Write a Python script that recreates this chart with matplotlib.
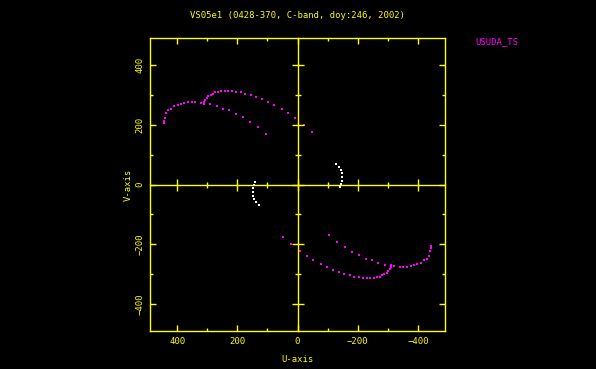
import matplotlib
matplotlib.use("Agg")
import matplotlib.pyplot as plt
import numpy as np

title = "VS05e1 (0428-370, C-band, doy:246, 2002)"
legend_label = "USUDA_TS"

# upper half of the uv track (magenta), conjugate drawn too
arcA_u = [445, 444, 441, 436, 429, 421, 409, 398, 387, 377, 364, 352, 339, 322, 312,
          290, 269, 249, 228, 204, 180, 157, 130, 104]
arcA_v = [205, 214, 223, 239, 248, 254, 261, 267, 270, 273, 275, 275, 275, 273, 270,
          269, 261, 254, 248, 237, 225, 209, 191, 170]
arcB_u = [309, 306, 301, 296, 289, 282, 273, 264, 253, 242, 230, 217, 203, 189, 173,
          156, 138, 119, 99, 77, 53, 31, 7, -20, -47]
arcB_v = [275, 283, 289, 295, 300, 303, 308, 310, 312, 312, 312, 312, 310, 308, 304,
          300, 293, 287, 277, 267, 253, 240, 221, 200, 177]
# white points
white_u = [-127, -137, -143, -149, -149, -149, -146, -142]
white_v = [70, 60, 49, 38, 26, 13, 2, -8]

major_ticks = [-400, -200, 0, 200, 400]
minor_ticks = [-300, -100, 100, 300]
lim = 490

YEL = "#ffff00"
MAG = "#ff00ff"
FONT = "DejaVu Sans Mono"
FS = 6.4

fig = plt.figure(figsize=(5.96, 3.69), dpi=100, facecolor="black")
pos = [150 / 596, 1 - 331 / 369, 295 / 596, 293 / 369]
ax = fig.add_axes(pos, facecolor="black")

mu = np.array(arcA_u + arcB_u)
mv = np.array(arcA_v + arcB_v)
ax.plot(mu, mv, ls="none", marker="s", ms=1.7, mew=0, color=MAG)
ax.plot(-mu, -mv, ls="none", marker="s", ms=1.7, mew=0, color=MAG)
wu = np.array(white_u)
wv = np.array(white_v)
ax.plot(wu, wv, ls="none", marker="s", ms=1.5, mew=0, color="white")
ax.plot(-wu, -wv, ls="none", marker="s", ms=1.5, mew=0, color="white")

ax.set_xlim(lim, -lim)
ax.set_ylim(-lim, lim)
ax.set_xticks(major_ticks)
ax.set_yticks(major_ticks)
ax.set_xticks(minor_ticks, minor=True)
ax.set_yticks(minor_ticks, minor=True)
for s in ax.spines.values():
    s.set_color(YEL)
    s.set_linewidth(1.0)
ax.tick_params(which="both", direction="in", colors=YEL, top=True, right=True,
               labelsize=FS, width=1.0)
ax.tick_params(which="major", length=4.5)
ax.tick_params(which="minor", length=2.5)
ax.tick_params(axis="x", pad=4)
ax.tick_params(axis="y", pad=4)
for lab in ax.get_xticklabels():
    lab.set_family(FONT)
for lab in ax.get_yticklabels():
    lab.set_family(FONT)
    lab.set_rotation(90)
    lab.set_va("center")

ax.set_xlabel("U-axis", color=YEL, fontsize=FS, family=FONT, labelpad=7)
ax.set_ylabel("V-axis", color=YEL, fontsize=FS, family=FONT, labelpad=2)

# centre cross with ticks
ax2 = fig.add_axes(pos, facecolor="none", sharex=ax, sharey=ax)
ax2.spines["top"].set_visible(False)
ax2.spines["right"].set_visible(False)
ax2.spines["left"].set_position(("data", 0))
ax2.spines["bottom"].set_position(("data", 0))
ax2.spines["left"].set_color(YEL)
ax2.spines["bottom"].set_color(YEL)
ax2.spines["left"].set_linewidth(1.0)
ax2.spines["bottom"].set_linewidth(1.0)
ax2.tick_params(which="both", direction="inout", colors=YEL, labelbottom=False,
                labelleft=False, width=1.0)
ax2.tick_params(which="major", length=9)
ax2.tick_params(which="minor", length=5)

fig.text(297.5 / 596, 1 - 16 / 369, title, color=YEL, fontsize=FS, family=FONT,
         ha="center", va="center")
fig.text(475 / 596, 1 - 42 / 369, legend_label, color=MAG, fontsize=FS, family=FONT,
         ha="left", va="center")

fig.savefig("out.png", dpi=100, facecolor="black")
